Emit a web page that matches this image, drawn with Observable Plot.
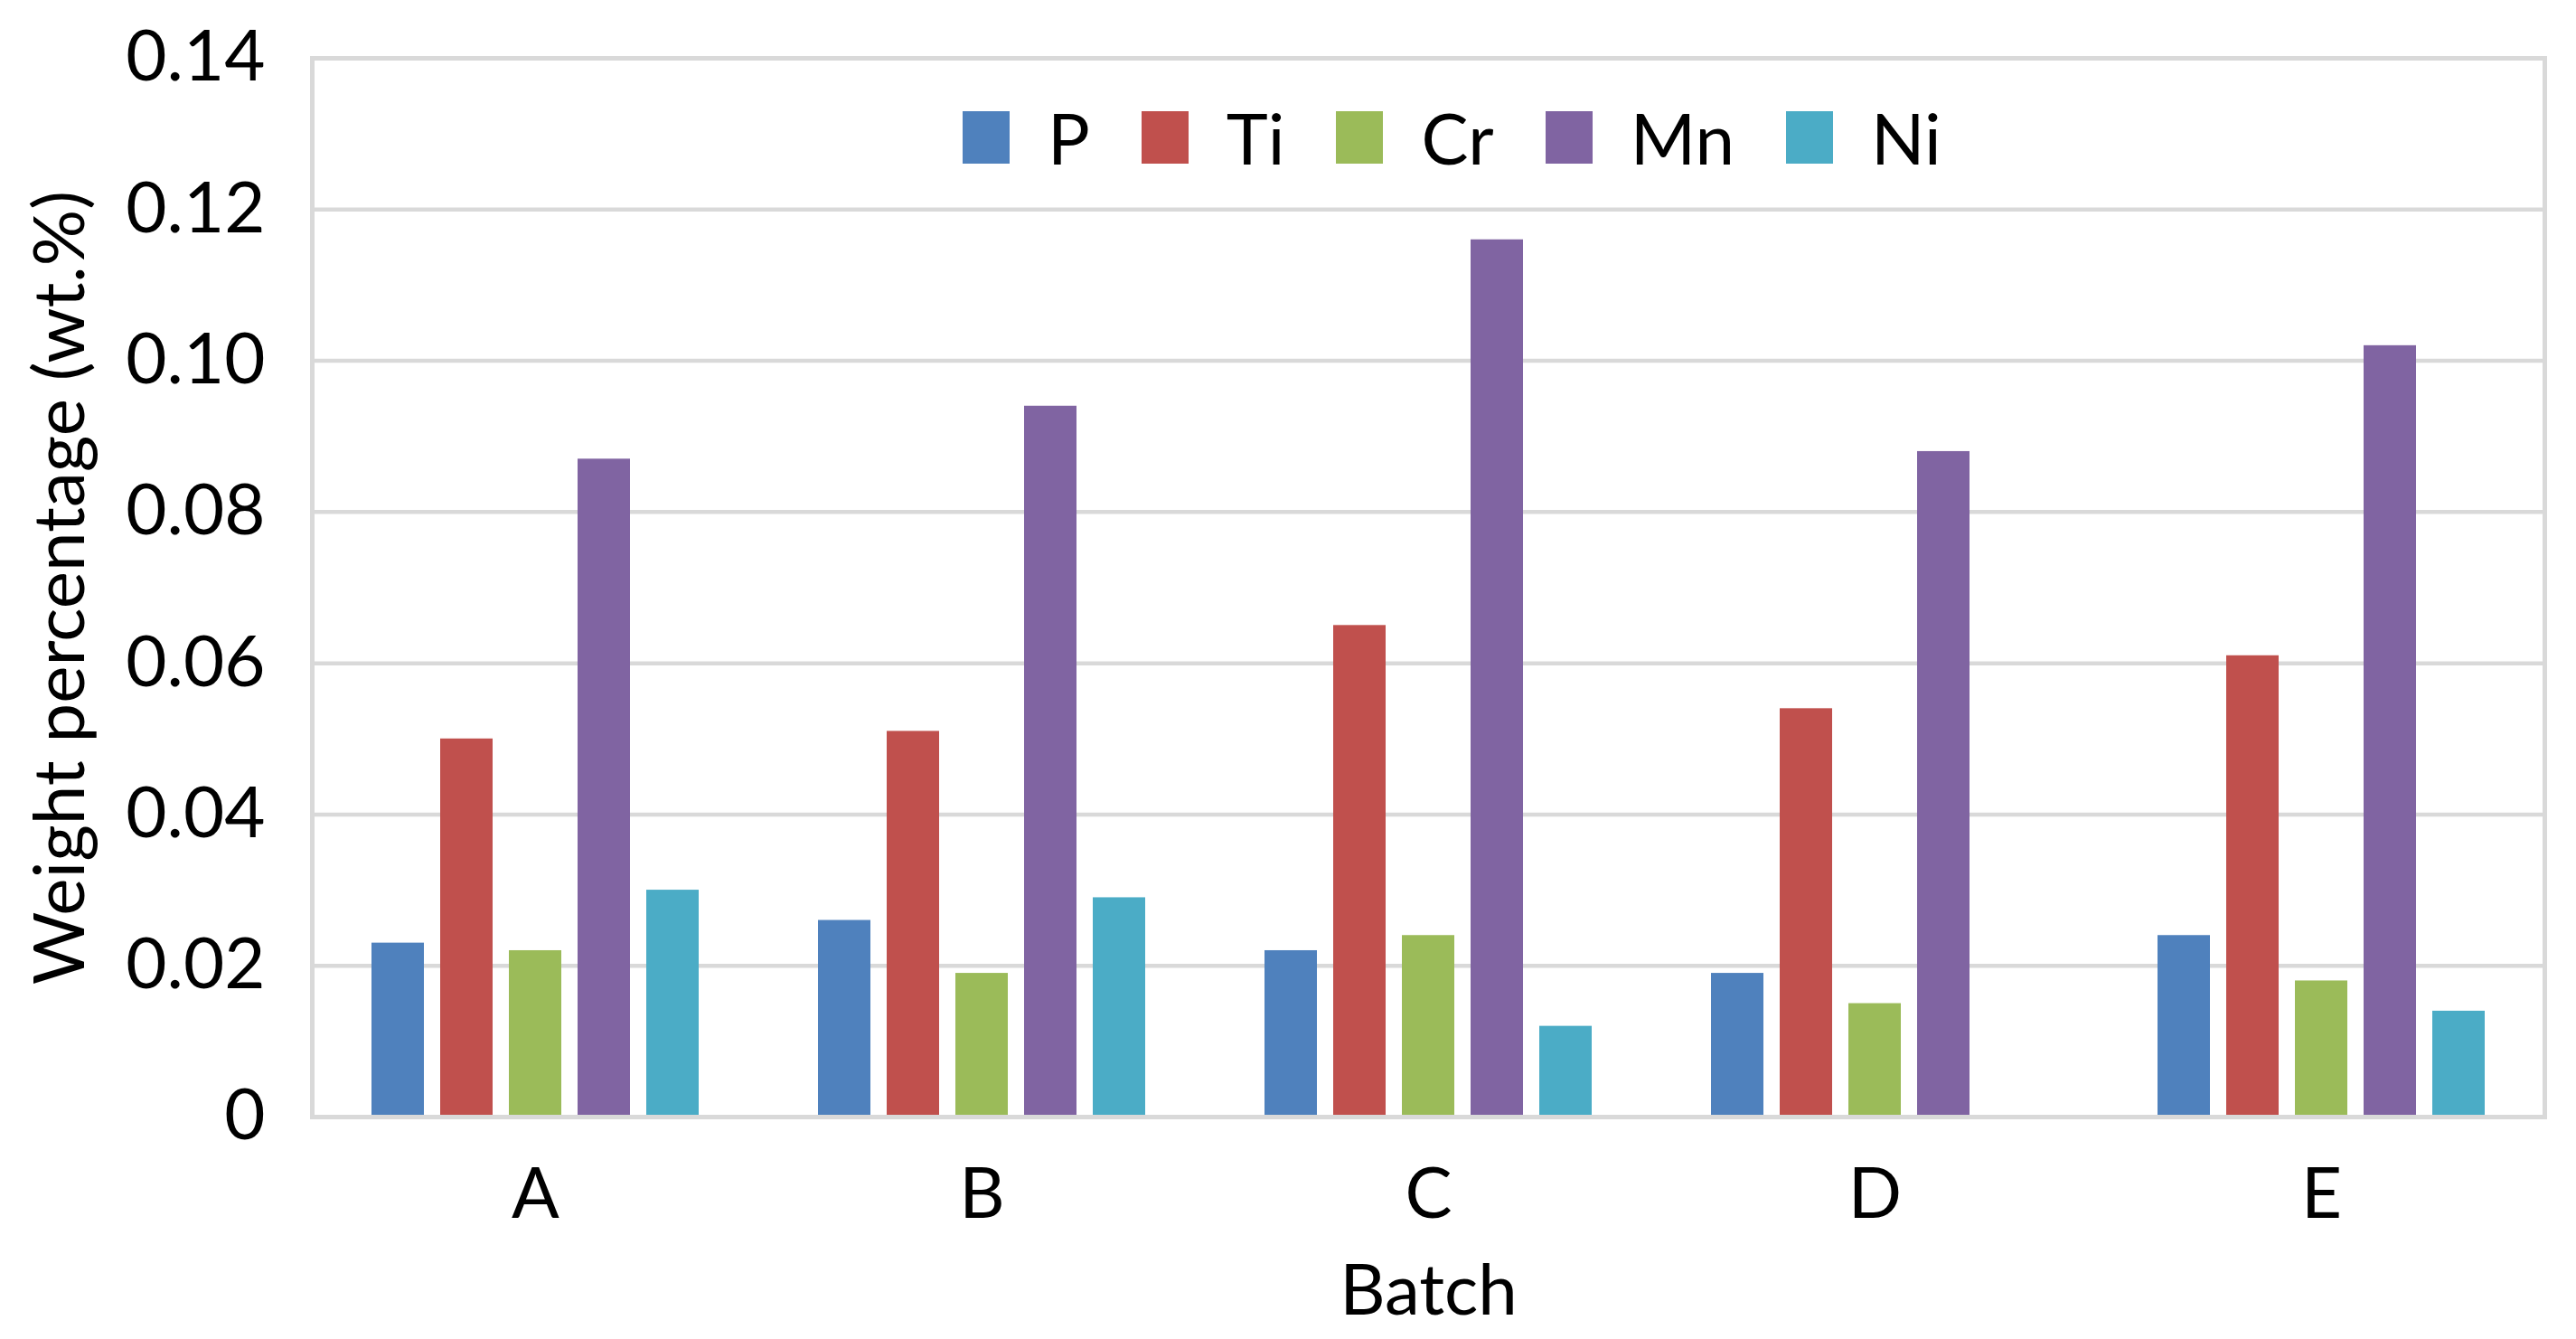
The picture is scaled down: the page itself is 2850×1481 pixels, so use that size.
<!DOCTYPE html>
<html><head><meta charset="utf-8">
<script src="https://cdn.jsdelivr.net/npm/d3@7"></script>
<script src="https://cdn.jsdelivr.net/npm/@observablehq/plot@0.6"></script>
<style>
html,body{margin:0;padding:0;background:#fff;}
#wrap{position:relative;width:2850px;height:1481px;font-family:Lato,sans-serif;color:#000;}
#legend{position:absolute;left:1065px;top:113px;height:78px;display:flex;align-items:center;font-size:78px;line-height:78px;}
.item{display:flex;align-items:center;margin-right:57px;}
.sw{width:52px;height:58px;margin-right:42px;}
</style></head><body>
<div id="wrap"><div id="chart"></div><div id="legend"></div></div>
<script>
const batches = ["A", "B", "C", "D", "E"];
const elements = ["P", "Ti", "Cr", "Mn", "Ni"];
const colors = ["#4f81bd", "#c0504d", "#9bbb59", "#8064a2", "#4bacc6"];
const P  = [0.023, 0.026, 0.022, 0.019, 0.024];
const Ti = [0.050, 0.051, 0.065, 0.054, 0.061];
const Cr = [0.022, 0.019, 0.024, 0.015, 0.018];
const Mn = [0.087, 0.094, 0.116, 0.088, 0.102];
const Ni = [0.030, 0.029, 0.012, null, 0.014];
const yTicks = [0, 0.02, 0.04, 0.06, 0.08, 0.10, 0.12, 0.14];
const yLabel = "Weight percentage (wt.%)";
const xLabel = "Batch";

const series = {P, Ti, Cr, Mn, Ni};
const rows = [];
batches.forEach((b, i) => elements.forEach(e => {
  const v = series[e][i];
  if (v != null) rows.push({batch: b, element: e, value: v});
}));

const grid = "#d9d9d9";
function build(useSuper) {
  const marks = [
    Plot.ruleY(yTicks, {stroke: grid, strokeWidth: 4.5}),
    Plot.barY(rows, {fx: "batch", x: "element", y: "value", fill: "element"}),
    Plot.axisY({ticks: yTicks, tickFormat: d => d === 0 ? "0" : d.toFixed(2), tickSize: 0, tickPadding: 52,
      fontSize: 78, label: yLabel, labelAnchor: "center", labelOffset: 308, labelArrow: "none"}),
    Plot.axisFx({anchor: "bottom", tickSize: 0, tickPadding: 56, fontSize: 78,
      label: xLabel, labelAnchor: "center", labelOffset: 218, labelArrow: "none"})
  ];
  if (useSuper) marks.push(Plot.frame({stroke: grid, strokeWidth: 5, facet: "super"}));
  return Plot.plot({
    width: 2850, height: 1481,
    marginLeft: 345, marginRight: 35, marginTop: 64, marginBottom: 246,
    style: {fontFamily: "Lato", fontSize: "78px", color: "#000", background: "#fff"},
    fx: {domain: batches, padding: 0, label: xLabel},
    x: {domain: elements, paddingInner: 0.24, paddingOuter: 0.87, axis: null},
    y: {domain: [0, 0.14], label: yLabel},
    color: {domain: elements, range: colors},
    marks
  });
}
let chart;
try { chart = build(true); }
catch (err) {
  chart = build(false);
  const ys = chart.scale("y").range;
  d3.select(chart).append("rect")
    .attr("x", 345).attr("y", Math.min(...ys))
    .attr("width", 2850 - 345 - 35).attr("height", Math.abs(ys[0] - ys[1]))
    .attr("fill", "none").attr("stroke", grid).attr("stroke-width", 5);
}
document.getElementById("chart").appendChild(chart);

const legend = d3.select("#legend");
elements.forEach((e, i) => {
  const it = legend.append("div").attr("class", "item");
  it.append("div").attr("class", "sw").style("background", colors[i]);
  it.append("span").text(e);
});
</script>
</body></html>
